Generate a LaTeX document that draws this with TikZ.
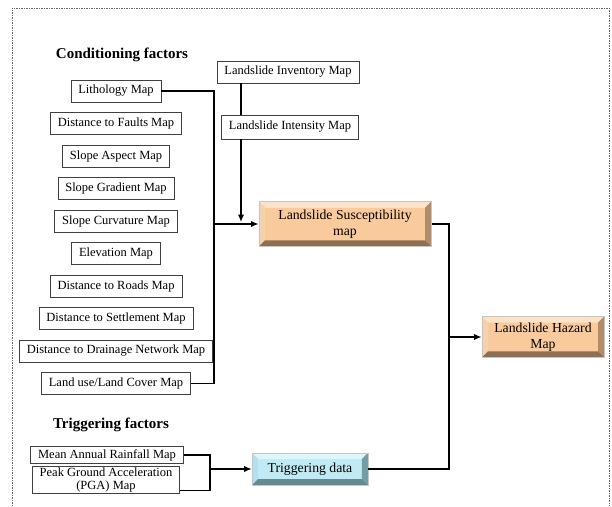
\documentclass[tikz,border=0pt]{standalone}
\usepackage{fontspec}
\setmainfont{Liberation Serif}
\usepackage{tikz}
\usetikzlibrary{positioning,calc,arrows.meta}

\definecolor{sand}{RGB}{249,202,156}
\definecolor{sandtop}{RGB}{252,226,198}
\definecolor{sandleft}{RGB}{244,210,174}
\definecolor{sandright}{RGB}{176,140,107}
\definecolor{sandbottom}{RGB}{142,111,82}
\definecolor{ice}{RGB}{192,235,245}
\definecolor{icetop}{RGB}{220,246,251}
\definecolor{iceleft}{RGB}{180,224,235}
\definecolor{iceright}{RGB}{118,156,166}
\definecolor{icebottom}{RGB}{102,138,148}
\definecolor{framegray}{RGB}{100,100,100}

\tikzset{
  bevel node/.style={rectangle,draw=gray!45,line width=0.4pt,fill=#1,align=center,
    font=\fontsize{11}{12.5}\selectfont,
    path picture={
      \path (path picture bounding box.south west) coordinate (bsw)
            (path picture bounding box.north east) coordinate (bne);
      \path ($(bsw)+(5pt,5pt)$) coordinate (isw)
            ($(bne)+(-5pt,-5pt)$) coordinate (ine);
      \fill[#1top] (bsw|-bne) -- (bne) -- (ine) -- (isw|-ine) -- cycle;
      \fill[#1left] (bsw) -- (bsw|-bne) -- (isw|-ine) -- (isw) -- cycle;
      \fill[#1right] (bne) -- (bne|-bsw) -- (ine|-isw) -- (ine) -- cycle;
      \fill[#1bottom] (bsw) -- (bne|-bsw) -- (ine|-isw) -- (isw) -- cycle;
    }}
}

\begin{document}
\begin{tikzpicture}[x=0.8pt,y=-0.8pt,>={Latex[length=6pt,width=5pt]},line width=0.9pt,node distance=26pt,map node/.style={rectangle,draw=black!75,line width=0.5pt,fill=white,inner xsep=6pt,inner ysep=4.3pt,font=\fontsize{10}{11}\selectfont},head node/.style={font=\fontsize{12}{14}\selectfont\bfseries}]

		\useasboundingbox (0,0) rectangle (612,506);
		\draw[framegray,line width=0.7pt,dash pattern=on 1.2pt off 0.8pt] (12,506) -- (12,8) -- (609,8) -- (609,506);

		\node[head node] (18) at (122,55) {Conditioning factors};
		\node[map node] (1) at (116,91) {Lithology Map};
		\node[map node] (2) [below of = 1] {Distance to Faults Map};
		\node[map node] (3) [below of = 2] {Slope Aspect Map};
		\node[map node] (4) [below of = 3] {Slope Gradient Map};
		\node[map node] (5) [below of = 4] {Slope Curvature Map};
		\node[map node] (6) [below of = 5] {Elevation Map};
		\node[map node] (7) [below of = 6] {Distance to Roads Map};
		\node[map node] (8) [below of = 7] {Distance to Settlement Map};
		\node[map node] (9) [below of = 8] {Distance to Drainage Network Map};
		\node[map node] (10) [below of = 9] {Land use/Land Cover Map};

		\node[map node] (11) at (288,72) {Landslide Inventory Map};
		\node[map node,inner ysep=5pt] (12) at (290,127) {Landslide Intensity Map};
		\node[bevel node=sand,minimum width=138pt,minimum height=36pt] (15) at (345,224) {Landslide Susceptibility\\map};
		\node[bevel node=sand,minimum width=98pt,minimum height=33pt] (17) at (543,337) {Landslide Hazard\\Map};

		\node[head node] (19) at (111,425) {Triggering factors};
		\node[map node,inner ysep=2pt] (13) at (107,455) {Mean Annual Rainfall Map};
		\node[map node,inner ysep=1pt,align=center] (14) at (106,480) {Peak Ground Acceleration\\(PGA) Map};
		\node[bevel node=ice,minimum width=93pt,minimum height=26pt] (16) at (310,469) {Triggering data};

		\coordinate (a) at (214,224);
		\coordinate (b) at (241,222);
		\coordinate (c) at (449,337);
		\coordinate (d) at (210,469);

		\draw (1.east) -| (a) |- (10.east);
		\draw[->] (a) -- (15.west);
		\draw (11.south -| b) -- (12.north -| b);
		\draw[->] (12.south -| b) -- (b);

		\draw (15.east) -| (c) |- (16.east);
		\draw[->] (c) -- (17.west);

		\draw (13.east) -| (d) |- ([yshift=3pt]14.south east);
		\draw[->] (d) -- (16.west);

\end{tikzpicture}
\end{document}
